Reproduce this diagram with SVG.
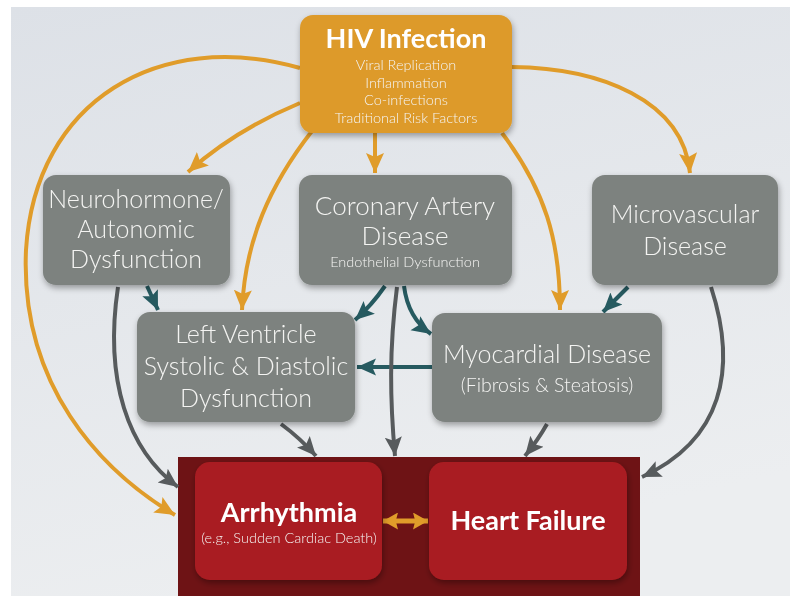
<svg xmlns="http://www.w3.org/2000/svg" width="790" height="596" viewBox="0 0 790 596">
<defs>
<linearGradient id="bg" x1="0" y1="0" x2="0.3" y2="1">
<stop offset="0" stop-color="#dde1e7"/>
<stop offset="1" stop-color="#eceef0"/>
</linearGradient>
<filter id="sh" x="-10%" y="-10%" width="125%" height="130%">
<feGaussianBlur in="SourceAlpha" stdDeviation="3"/>
<feOffset dx="1" dy="3" result="b"/>
<feComponentTransfer><feFuncA type="linear" slope="0.35"/></feComponentTransfer>
<feMerge><feMergeNode/><feMergeNode in="SourceGraphic"/></feMerge>
</filter>
<marker id="ao" viewBox="0 0 10 10" refX="10" refY="5" markerWidth="20" markerHeight="20" markerUnits="userSpaceOnUse" orient="auto-start-reverse"><path d="M0,0.5 L10,5 L0,9.5 L2,5 z" fill="#e09c2a"/></marker>
<marker id="ad" viewBox="0 0 10 10" refX="10" refY="5" markerWidth="15" markerHeight="17" markerUnits="userSpaceOnUse" orient="auto-start-reverse" preserveAspectRatio="none"><path d="M0,0 L10,5 L0,10 L1.5,5 z" fill="#e09c2a"/></marker>
<marker id="at" viewBox="0 0 10 10" refX="10" refY="5" markerWidth="19" markerHeight="19" markerUnits="userSpaceOnUse" orient="auto"><path d="M0,0.5 L10,5 L0,9.5 L2,5 z" fill="#265a60"/></marker>
<marker id="ag" viewBox="0 0 10 10" refX="10" refY="5" markerWidth="19" markerHeight="19" markerUnits="userSpaceOnUse" orient="auto"><path d="M0,0.5 L10,5 L0,9.5 L2,5 z" fill="#575b5d"/></marker>
</defs>
<style>
.grey{fill:#7d827f}
.t{font-family:Lato,"Open Sans","DejaVu Sans",sans-serif;fill:#f4f4f2;text-anchor:middle}
.big{font-size:25px;font-weight:300}
.sm{font-size:14.5px;font-weight:300}
.b{font-weight:700;font-size:27px;fill:#fff}
.co{fill:none;stroke:#e09c2a;stroke-width:4;marker-end:url(#ao)}
.ct{fill:none;stroke:#265a60;stroke-width:4;marker-end:url(#at)}
.cg{fill:none;stroke:#575b5d;stroke-width:4;marker-end:url(#ag)}
</style>
<rect width="790" height="596" fill="#ffffff"/>
<rect x="11" y="7" width="779" height="589" fill="url(#bg)"/>

<g id="outcome-frame">
<rect x="178" y="457" width="462" height="139" fill="#6e1315"/>
</g>

<g id="connectors">
<path class="co" d="M300,68 C160,28 35,100 26,250 C20,385 100,470 175,515"/>
<path class="co" d="M300,103 Q235,130 188,172"/>
<path class="co" d="M312,131 C270,185 245,240 242,310"/>
<path class="co" d="M375,133 L375,173"/>
<path class="co" d="M502,133 C545,190 560,240 560,310"/>
<path class="co" d="M512,67 C600,68 683,100 690,173"/>
<path class="ct" d="M147,286 L158,310"/>
<path class="ct" d="M385,286 Q372,305 355,320"/>
<path class="ct" d="M404,286 Q408,318 431,334"/>
<path class="ct" d="M432,367 L357,367"/>
<path class="ct" d="M628,287 L603,312"/>
<path class="cg" d="M118,287 C104,380 128,450 178,487"/>
<path class="cg" d="M281,424 Q300,438 316,456"/>
<path class="cg" d="M397,287 C389,350 390,400 395,456"/>
<path class="cg" d="M547,424 Q538,440 525,456"/>
<path class="cg" d="M711,287 C738,370 722,440 642,477"/>
<path d="M383,521 L428,521" fill="none" stroke="#e09c2a" stroke-width="5" marker-start="url(#ad)" marker-end="url(#ad)"/>
</g>

<g id="hiv" filter="url(#sh)">
<rect x="300" y="15" width="212" height="118" rx="13" fill="#dd9a2b"/>
<text class="t b" x="406" y="48">HIV Infection</text>
<text class="t sm" x="406" y="70">Viral Replication</text>
<text class="t sm" x="406" y="88">Inflammation</text>
<text class="t sm" x="406" y="105">Co-infections</text>
<text class="t sm" x="406" y="123">Traditional Risk Factors</text>
</g>

<g id="neuro" filter="url(#sh)">
<rect class="grey" x="43" y="175" width="187" height="110" rx="13"/>
<text class="t big" x="136" y="208">Neurohormone/</text>
<text class="t big" x="136" y="238">Autonomic</text>
<text class="t big" x="136" y="268">Dysfunction</text>
</g>

<g id="cad" filter="url(#sh)">
<rect class="grey" x="299" y="175" width="213" height="110" rx="13"/>
<text class="t big" x="405" y="215" style="font-size:26px">Coronary Artery</text>
<text class="t big" x="405" y="245" style="font-size:26px">Disease</text>
<text class="t sm" x="405" y="267">Endothelial Dysfunction</text>
</g>

<g id="micro" filter="url(#sh)">
<rect class="grey" x="592" y="175" width="186" height="110" rx="13"/>
<text class="t big" x="685" y="223">Microvascular</text>
<text class="t big" x="685" y="255">Disease</text>
</g>

<g id="lv" filter="url(#sh)">
<rect class="grey" x="137" y="312" width="218" height="110" rx="13"/>
<text class="t big" x="246" y="343">Left Ventricle</text>
<text class="t big" x="246" y="375">Systolic &amp; Diastolic</text>
<text class="t big" x="246" y="407">Dysfunction</text>
</g>

<g id="myo" filter="url(#sh)">
<rect class="grey" x="432" y="313" width="230" height="109" rx="13"/>
<text class="t big" x="547" y="363">Myocardial Disease</text>
<text class="t" x="547" y="392" style="font-size:19.5px;font-weight:300">(Fibrosis &amp; Steatosis)</text>
</g>

<g id="arrhythmia" filter="url(#sh)">
<rect x="195" y="462" width="187" height="118" rx="15" fill="#a91c22"/>
<text class="t b" x="289" y="522">Arrhythmia</text>
<text class="t sm" x="289" y="543">(e.g., Sudden Cardiac Death)</text>
</g>

<g id="hf" filter="url(#sh)">
<rect x="429" y="462" width="198" height="118" rx="15" fill="#a91c22"/>
<text class="t b" x="528" y="530">Heart Failure</text>
</g>
</svg>
